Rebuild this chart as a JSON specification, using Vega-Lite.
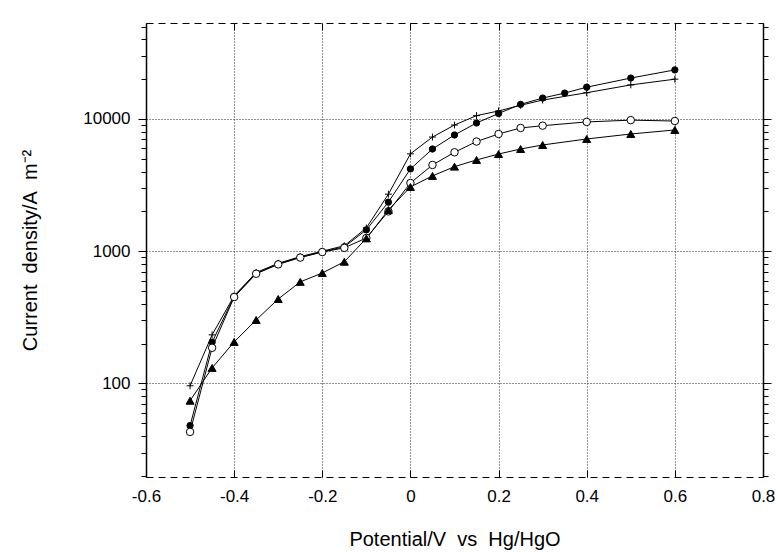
{
  "$schema": "https://vega.github.io/schema/vega-lite/v6.json",
  "width": 617,
  "height": 454,
  "autosize": "none",
  "padding": {"left": 146, "top": 23, "right": 18, "bottom": 77},
  "background": "white",
  "config": {
    "view": {"stroke": null},
    "font": "Liberation Sans",
    "axis": {
      "labelFont": "Liberation Sans",
      "titleFont": "Liberation Sans",
      "labelColor": "black",
      "titleColor": "black",
      "domainColor": "black",
      "tickColor": "black",
      "gridColor": "#222222",
      "gridDash": [1, 2],
      "labelFontSize": 17,
      "titleFontSize": 20,
      "titleFontWeight": "normal"
    }
  },
  "data": {
    "values": [
      {"s": "filled", "x": -0.5, "y": 48},
      {"s": "filled", "x": -0.45, "y": 205},
      {"s": "filled", "x": -0.4, "y": 455},
      {"s": "filled", "x": -0.35, "y": 680},
      {"s": "filled", "x": -0.3, "y": 800},
      {"s": "filled", "x": -0.25, "y": 900},
      {"s": "filled", "x": -0.2, "y": 990},
      {"s": "filled", "x": -0.15, "y": 1080},
      {"s": "filled", "x": -0.1, "y": 1450},
      {"s": "filled", "x": -0.05, "y": 2350},
      {"s": "filled", "x": 0, "y": 4190},
      {"s": "filled", "x": 0.05, "y": 5930},
      {"s": "filled", "x": 0.1, "y": 7570},
      {"s": "filled", "x": 0.15, "y": 9330},
      {"s": "filled", "x": 0.2, "y": 11000},
      {"s": "filled", "x": 0.25, "y": 12900},
      {"s": "filled", "x": 0.3, "y": 14400},
      {"s": "filled", "x": 0.35, "y": 15700},
      {"s": "filled", "x": 0.4, "y": 17400},
      {"s": "filled", "x": 0.5, "y": 20400},
      {"s": "filled", "x": 0.6, "y": 23500},
      {"s": "plus", "x": -0.5, "y": 96},
      {"s": "plus", "x": -0.45, "y": 233},
      {"s": "plus", "x": -0.4, "y": 460},
      {"s": "plus", "x": -0.35, "y": 690},
      {"s": "plus", "x": -0.3, "y": 810},
      {"s": "plus", "x": -0.25, "y": 910},
      {"s": "plus", "x": -0.2, "y": 1000},
      {"s": "plus", "x": -0.15, "y": 1100},
      {"s": "plus", "x": -0.1, "y": 1500},
      {"s": "plus", "x": -0.05, "y": 2700},
      {"s": "plus", "x": 0, "y": 5450},
      {"s": "plus", "x": 0.05, "y": 7300},
      {"s": "plus", "x": 0.1, "y": 9000},
      {"s": "plus", "x": 0.15, "y": 10600},
      {"s": "plus", "x": 0.2, "y": 11500},
      {"s": "plus", "x": 0.25, "y": 12700},
      {"s": "plus", "x": 0.3, "y": 13900},
      {"s": "plus", "x": 0.4, "y": 15800},
      {"s": "plus", "x": 0.5, "y": 18100},
      {"s": "plus", "x": 0.6, "y": 20000},
      {"s": "open", "x": -0.5, "y": 43},
      {"s": "open", "x": -0.45, "y": 186},
      {"s": "open", "x": -0.4, "y": 450},
      {"s": "open", "x": -0.35, "y": 675},
      {"s": "open", "x": -0.3, "y": 795},
      {"s": "open", "x": -0.25, "y": 895},
      {"s": "open", "x": -0.2, "y": 985},
      {"s": "open", "x": -0.15, "y": 1060},
      {"s": "open", "x": -0.1, "y": 1260},
      {"s": "open", "x": -0.05, "y": 2000},
      {"s": "open", "x": 0, "y": 3280},
      {"s": "open", "x": 0.05, "y": 4490},
      {"s": "open", "x": 0.1, "y": 5600},
      {"s": "open", "x": 0.15, "y": 6750},
      {"s": "open", "x": 0.2, "y": 7700},
      {"s": "open", "x": 0.25, "y": 8550},
      {"s": "open", "x": 0.3, "y": 8900},
      {"s": "open", "x": 0.4, "y": 9500},
      {"s": "open", "x": 0.5, "y": 9800},
      {"s": "open", "x": 0.6, "y": 9650},
      {"s": "triangle", "x": -0.5, "y": 74},
      {"s": "triangle", "x": -0.45, "y": 131},
      {"s": "triangle", "x": -0.4, "y": 206},
      {"s": "triangle", "x": -0.35, "y": 302},
      {"s": "triangle", "x": -0.3, "y": 435},
      {"s": "triangle", "x": -0.25, "y": 586},
      {"s": "triangle", "x": -0.2, "y": 684},
      {"s": "triangle", "x": -0.15, "y": 832},
      {"s": "triangle", "x": -0.1, "y": 1250},
      {"s": "triangle", "x": -0.05, "y": 2050},
      {"s": "triangle", "x": 0, "y": 3060},
      {"s": "triangle", "x": 0.05, "y": 3710},
      {"s": "triangle", "x": 0.1, "y": 4360},
      {"s": "triangle", "x": 0.15, "y": 4900},
      {"s": "triangle", "x": 0.2, "y": 5430},
      {"s": "triangle", "x": 0.25, "y": 5930},
      {"s": "triangle", "x": 0.3, "y": 6360},
      {"s": "triangle", "x": 0.4, "y": 7060},
      {"s": "triangle", "x": 0.5, "y": 7700},
      {"s": "triangle", "x": 0.6, "y": 8260}
    ]
  },
  "layer": [
    {
      "mark": {"type": "line", "color": "black", "strokeWidth": 1},
      "encoding": {
        "x": {
          "field": "x", "type": "quantitative",
          "scale": {"domain": [-0.6, 0.8], "nice": false, "zero": false},
          "axis": {
            "orient": "bottom",
            "title": "Potential/V\u00a0\u00a0vs\u00a0\u00a0Hg/HgO",
            "values": [-0.6, -0.4, -0.2, 0, 0.2, 0.4, 0.6, 0.8],
            "labelExpr": "datum.value == 0 ? '0' : (datum.value < 0 ? '-' : '') + format(abs(datum.value), '.1f')",
            "grid": true,
            "gridOpacity": {"condition": {"test": "datum.value > -0.55 && datum.value < 0.75", "value": 1}, "value": 0},
            "tickSize": -7,
            "labelPadding": 18,
            "labelFlush": false,
            "domainDash": [7, 5],
            "domainWidth": 1.2,
            "titlePadding": 25
          }
        },
        "y": {
          "field": "y", "type": "quantitative",
          "scale": {"type": "log", "domain": [19.6, 53200], "nice": false},
          "axis": {
            "orient": "left",
            "title": "Current\u00a0\u00a0density/A\u00a0\u00a0m\u207b\u00b2",
            "values": [20, 30, 40, 50, 60, 70, 80, 90, 100, 200, 300, 400, 500, 600, 700, 800, 900, 1000, 2000, 3000, 4000, 5000, 6000, 7000, 8000, 9000, 10000, 20000, 30000, 40000, 50000],
            "labelExpr": "(datum.value == 100 || datum.value == 1000 || datum.value == 10000) ? format(datum.value, 'd') : ''",
            "grid": true,
            "gridOpacity": {"condition": {"test": "datum.value == 100 || datum.value == 1000 || datum.value == 10000", "value": 1}, "value": 0},
            "tickSize": {"condition": {"test": "datum.value == 100 || datum.value == 1000 || datum.value == 10000", "value": 8}, "value": 5},
            "labelPadding": 8,
            "labelFlush": false,
            "domainWidth": 1.5,
            "titlePadding": 42
          }
        },
        "detail": {"field": "s"}
      }
    },
    {
      "mark": {"type": "point", "filled": true, "opacity": 1, "stroke": "black", "strokeWidth": 1},
      "encoding": {
        "x": {"field": "x", "type": "quantitative", "axis": null},
        "y": {"field": "y", "type": "quantitative", "axis": null},
        "shape": {
          "field": "s",
          "scale": {"domain": ["filled", "plus", "open", "triangle"], "range": ["circle", "M-1,0H1M0,-1V1", "circle", "triangle-up"]},
          "legend": null
        },
        "fill": {
          "field": "s",
          "scale": {"domain": ["filled", "plus", "open", "triangle"], "range": ["black", "none", "white", "black"]},
          "legend": null
        },
        "size": {
          "field": "s",
          "scale": {"domain": ["filled", "plus", "open", "triangle"], "range": [40, 64, 36, 45]},
          "legend": null
        }
      }
    },
    {
      "mark": {"type": "point", "opacity": 0},
      "encoding": {
        "x": {
          "field": "x", "type": "quantitative",
          "axis": {
            "orient": "top",
            "title": null,
            "labels": false,
            "grid": false,
            "values": [-0.6, -0.4, -0.2, 0, 0.2, 0.4, 0.6, 0.8],
            "tickSize": -7,
            "domainDash": [7, 5],
            "domainWidth": 1.2
          }
        },
        "y": {
          "field": "y", "type": "quantitative",
          "axis": {
            "orient": "right",
            "title": null,
            "labels": false,
            "grid": false,
            "values": [20, 30, 40, 50, 60, 70, 80, 90, 100, 200, 300, 400, 500, 600, 700, 800, 900, 1000, 2000, 3000, 4000, 5000, 6000, 7000, 8000, 9000, 10000, 20000, 30000, 40000, 50000],
            "tickSize": {"condition": {"test": "datum.value == 100 || datum.value == 1000 || datum.value == 10000", "value": 8}, "value": 5},
            "domainWidth": 1.5
          }
        }
      }
    }
  ],
  "resolve": {"axis": {"x": "independent", "y": "independent"}}
}
